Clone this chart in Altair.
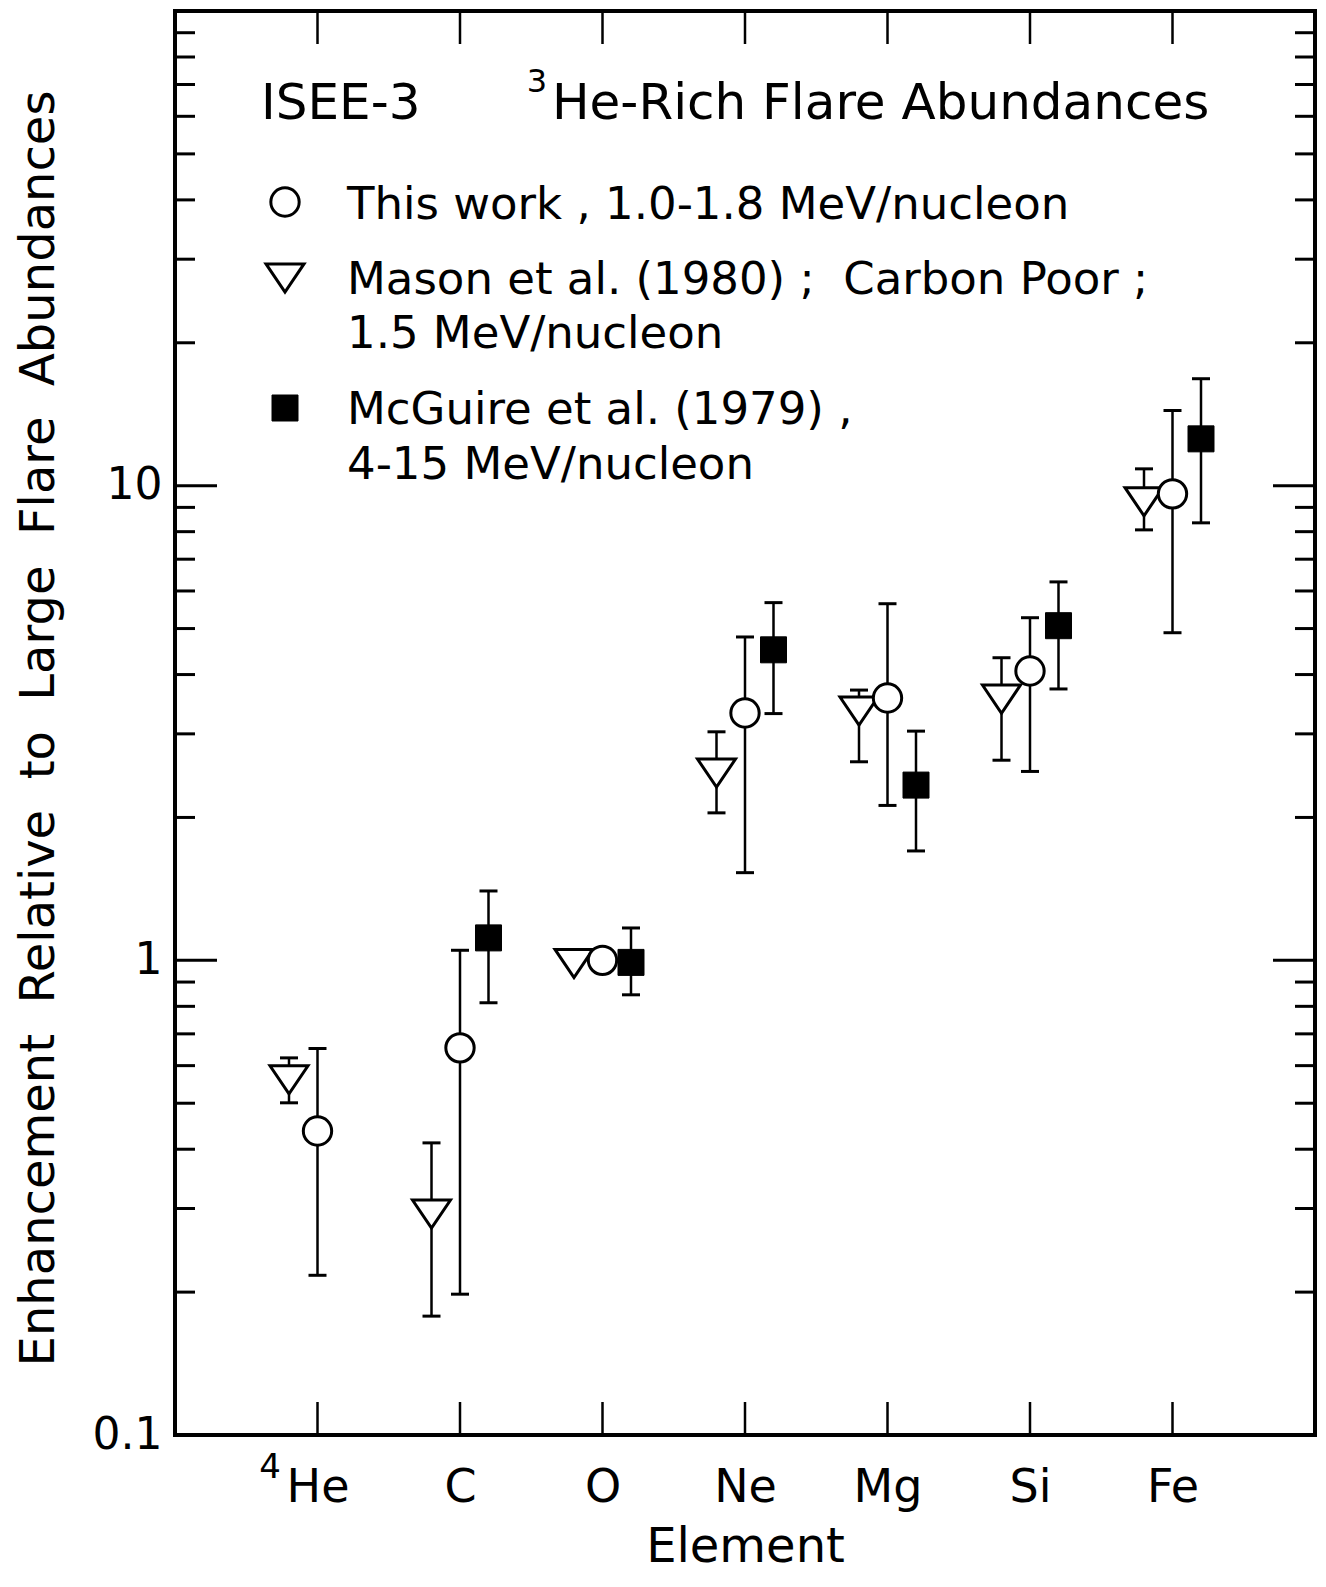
import altair as alt
import pandas as pd

# ---------------- data ----------------
ELEMENTS = ["He", "C", "O", "Ne", "Mg", "Si", "Fe"]

THIS_WORK = [0.437, 0.654, 1.00, 3.32, 3.57, 4.07, 9.61]
THIS_WORK_LO = [0.217, 0.198, None, 1.53, 2.12, 2.50, 4.90]
THIS_WORK_HI = [0.652, 1.05, None, 4.80, 5.64, 5.27, 14.4]

MASON = [0.56, 0.292, 0.985, 2.48, 3.35, 3.55, 9.25]
MASON_LO = [0.501, 0.178, None, 2.045, 2.62, 2.64, 8.07]
MASON_HI = [0.623, 0.4125, None, 3.03, 3.71, 4.34, 10.85]

MCGUIRE = [None, 1.115, 0.99, 4.51, 2.34, 5.07, 12.55]
MCGUIRE_LO = [None, 0.814, 0.846, 3.31, 1.70, 3.73, 8.35]
MCGUIRE_HI = [None, 1.40, 1.17, 5.67, 3.04, 6.27, 16.8]

Y_LABEL_VALUES = [0.1, 1, 10]
MAJOR_TICKS = [0.1, 1, 10, 100]
MINOR_TICKS = [0.2, 0.3, 0.4, 0.5, 0.6, 0.7, 0.8, 0.9,
               2, 3, 4, 5, 6, 7, 8, 9,
               20, 30, 40, 50, 60, 70, 80, 90]

# ---------------- layout / style ----------------
W, H = 1140, 1424
FONT = "DejaVu Sans"
NB = "\u00a0"
OFFSET = {"this": 0.0, "mason": -0.2, "mcguire": 0.2}

rows = []
for series, vals, lo, hi in [
    ("this", THIS_WORK, THIS_WORK_LO, THIS_WORK_HI),
    ("mason", MASON, MASON_LO, MASON_HI),
    ("mcguire", MCGUIRE, MCGUIRE_LO, MCGUIRE_HI),
]:
    for i, el in enumerate(ELEMENTS):
        if vals[i] is None:
            continue
        rows.append(dict(series=series, el=el, xpos=i + 1 + OFFSET[series],
                         v=vals[i], lo=lo[i], hi=hi[i]))
df = pd.DataFrame(rows)
err = df.dropna(subset=["lo"]).copy()

xscale = alt.Scale(domain=[0, 8], nice=False, zero=False)
yscale = alt.Scale(type="log", domain=[0.1, 100], nice=False)

label_js = "[''," + ",".join("'%s'" % e for e in ELEMENTS) + "][datum.value]"

x_axis = alt.Axis(values=list(range(1, len(ELEMENTS) + 1)), labelExpr=label_js,
                  ticks=False, domain=False, grid=False,
                  labelFont=FONT, labelFontSize=46, labelColor="black",
                  labelPadding=66, labelBaseline="alphabetic",
                  title="Element", titleFont=FONT, titleFontSize=48,
                  titleFontWeight="normal", titleColor="black",
                  titleX=W / 2, titleY=126, titleAlign="center",
                  titleBaseline="alphabetic")

ytitle = (NB + " ").join(["Enhancement", "Relative", "to", "Large", "Flare", "Abundances"])
y_axis = alt.Axis(values=Y_LABEL_VALUES, format="~g",
                  ticks=False, domain=False, grid=False,
                  labelFont=FONT, labelFontSize=44, labelColor="black",
                  labelPadding=13, labelBaseline="middle",
                  title=ytitle, titleFont=FONT, titleFontSize=48,
                  titleFontWeight="normal", titleColor="black",
                  titleX=-122, titleY=717, titleAngle=270, titleAlign="center",
                  titleBaseline="alphabetic")


def X(field):
    return alt.X(field, type="quantitative", scale=xscale, axis=x_axis)


def Y(field):
    return alt.Y(field, type="quantitative", scale=yscale, axis=y_axis)


# error bars
bars = alt.Chart(err).mark_rule(color="black", strokeWidth=2.5).encode(
    x=X("xpos"), y=Y("lo"), y2="hi",
)
cap_lo = alt.Chart(err).mark_tick(orient="horizontal", size=18, thickness=3, color="black",
                                  opacity=1).encode(x=X("xpos"), y=Y("lo"))
cap_hi = alt.Chart(err).mark_tick(orient="horizontal", size=18, thickness=3, color="black",
                                  opacity=1).encode(x=X("xpos"), y=Y("hi"))

TRI = "M -1 -0.74 L 1 -0.74 L 0 0.74 Z"


def pts(series, shape, size, fill):
    return alt.Chart(df[df.series == series]).mark_point(
        shape=shape, size=size, filled=True, fill=fill, stroke="black",
        strokeWidth=3 if fill == "white" else 1, opacity=1, strokeOpacity=1, fillOpacity=1
    ).encode(x=X("xpos"), y=Y("v"))


p_mason = pts("mason", TRI, 1444, "white")
p_this = pts("this", "circle", 804, "white")
p_mcg = pts("mcguire", "square", 676, "black")

# inward tick marks
maj = pd.DataFrame({"v": MAJOR_TICKS})
mnr = pd.DataFrame({"v": MINOR_TICKS})
xt = pd.DataFrame({"p": list(range(1, len(ELEMENTS) + 1))})


def yticks(d, x1, x2):
    return alt.Chart(d).mark_rule(color="black", strokeWidth=3).encode(
        y=Y("v"), x=alt.value(x1), x2=alt.value(x2))


def xticks(y1, y2):
    return alt.Chart(xt).mark_rule(color="black", strokeWidth=2.5).encode(
        x=X("p"), y=alt.value(y1), y2=alt.value(y2))


tick_layers = [
    yticks(maj, 0, 42), yticks(mnr, 0, 20),
    yticks(maj, W - 42, W), yticks(mnr, W - 20, W),
    xticks(H, H - 33), xticks(0, 33),
]

one = pd.DataFrame({"k": [0]})


def txt(s, x, y, size, align="left"):
    return alt.Chart(one).mark_text(
        text=s, font=FONT, fontSize=size, color="black", align=align,
        baseline="alphabetic").encode(x=alt.value(x), y=alt.value(y))


def sym(shape, size, fill, x, y):
    return alt.Chart(one).mark_point(
        shape=shape, size=size, filled=True, fill=fill, stroke="black",
        strokeWidth=3 if fill == "white" else 1, opacity=1
    ).encode(x=alt.value(x), y=alt.value(y))


annotations = [
    txt("ISEE-3", 86, 108, 50),
    txt("3", 362, 81, 32, "center"),
    txt("He-Rich Flare Abundances", 377, 108, 50),
    sym("circle", 804, "white", 110, 191),
    txt("This work , 1.0-1.8 MeV/nucleon", 172, 208, 45),
    sym(TRI, 1444, "white", 110, 267),
    txt("Mason et al. (1980) ;" + NB + " Carbon Poor ;", 172, 283, 45),
    txt("1.5 MeV/nucleon", 172, 337, 45),
    sym("square", 676, "black", 110, 397),
    txt("McGuire et al. (1979) ,", 172, 413, 45),
    txt("4-15 MeV/nucleon", 172, 468, 45),
    txt("4", 95, 1467, 34, "center"),
]

chart = alt.layer(
    bars, cap_lo, cap_hi, *tick_layers, p_mason, p_this, p_mcg, *annotations
).properties(
    width=W, height=H,
    autosize=alt.AutoSizeParams(type="none"),
    padding={"left": 167, "top": 3, "right": 3, "bottom": 138},
    background="white",
).configure_view(stroke="black", strokeWidth=4)

chart.save("out.html", embed_options={"renderer": "svg", "actions": False})
